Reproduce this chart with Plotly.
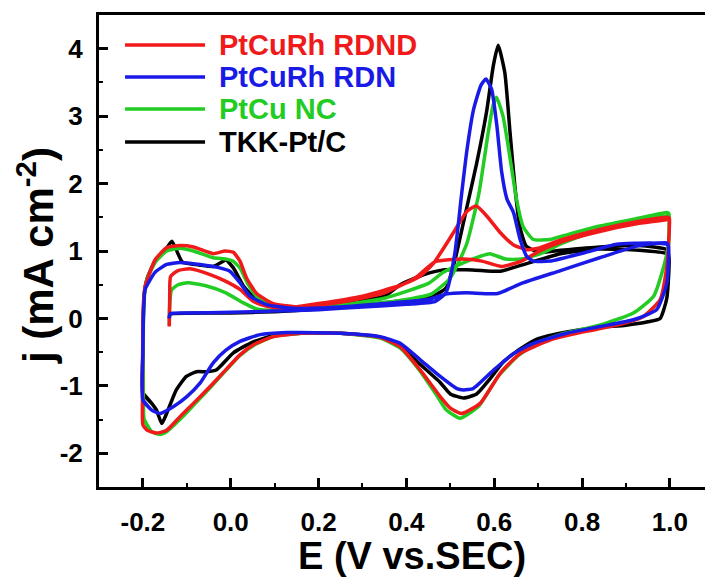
import plotly.graph_objects as go

# ---------------- data (E in V vs. SCE, j in mA cm-2) ----------------
# PtCuRh RDND (red)
rdnd_fwd1_E = [-0.14, -0.139, -0.137, -0.12, -0.093, -0.047, -0.011, 0.021, 0.052, 0.082, 0.12, 0.2, 0.3, 0.39, 0.43, 0.462, 0.507, 0.538, 0.559, 0.583, 0.614, 0.644, 0.674, 0.70, 0.75, 0.84, 0.93, 0.997]
rdnd_fwd1_j = [-0.12, 0.3, 0.62, 0.71, 0.735, 0.65, 0.55, 0.43, 0.25, 0.18, 0.15, 0.22, 0.33, 0.5, 0.62, 0.82, 1.27, 1.59, 1.667, 1.52, 1.27, 1.09, 1.02, 1.04, 1.16, 1.32, 1.44, 1.5]
rdnd_rev_E = [0.999, 0.997, 0.993, 0.978, 0.94, 0.879, 0.803, 0.727, 0.659, 0.614, 0.568, 0.526, 0.50, 0.477, 0.431, 0.386, 0.34, 0.25, 0.16, 0.097, 0.052, 0.021, -0.011, -0.047, -0.085, -0.116, -0.146, -0.169, -0.19, -0.2]
rdnd_rev_j = [1.48, 1.1, 0.77, 0.28, 0.03, -0.1, -0.2, -0.32, -0.52, -0.81, -1.26, -1.41, -1.33, -1.16, -0.76, -0.42, -0.28, -0.22, -0.22, -0.27, -0.39, -0.54, -0.76, -1.01, -1.26, -1.46, -1.66, -1.70, -1.66, -1.58]
rdnd_fwd2_E = [-0.201, -0.2, -0.198, -0.195, -0.172, -0.146, -0.116, -0.085, -0.04, -0.013, 0.006, 0.021, 0.036, 0.059, 0.097, 0.158, 0.25, 0.35, 0.42, 0.465, 0.528, 0.572, 0.617, 0.662, 0.706, 0.75, 0.84, 0.93, 0.997]
rdnd_fwd2_j = [-1.2, 0.0, 0.3, 0.48, 0.87, 1.05, 1.08, 1.06, 0.96, 1.0, 0.98, 0.85, 0.6, 0.37, 0.22, 0.17, 0.24, 0.38, 0.6, 0.84, 0.88, 0.85, 0.77, 0.85, 1.01, 1.13, 1.29, 1.41, 1.47]

# PtCuRh RDN (blue)
rdn_fwd1_E = [-0.14, -0.138, -0.1, 0.0, 0.1, 0.2, 0.3, 0.4, 0.465, 0.49, 0.51, 0.525, 0.538, 0.553, 0.57, 0.581, 0.594, 0.606, 0.617, 0.629, 0.644, 0.659, 0.674, 0.689, 0.727, 0.803, 0.879, 0.955, 0.993]
rdn_fwd1_j = [0.0, 0.07, 0.08, 0.09, 0.11, 0.13, 0.17, 0.21, 0.25, 0.38, 0.95, 1.8, 2.5, 3.1, 3.46, 3.55, 3.40, 2.86, 2.17, 1.77, 1.57, 1.17, 0.92, 0.85, 0.85, 0.97, 1.1, 1.12, 1.10]
rdn_rev_E = [0.997, 0.993, 0.97, 0.917, 0.841, 0.765, 0.689, 0.644, 0.598, 0.552, 0.53, 0.515, 0.477, 0.431, 0.386, 0.34, 0.25, 0.16, 0.127, 0.067, 0.021, -0.011, -0.04, -0.07, -0.1, -0.131, -0.161, -0.18, -0.2]
rdn_rev_j = [1.07, 0.52, 0.13, -0.02, -0.12, -0.22, -0.37, -0.52, -0.77, -1.04, -1.06, -1.04, -0.86, -0.61, -0.37, -0.27, -0.22, -0.21, -0.21, -0.24, -0.34, -0.47, -0.66, -0.96, -1.16, -1.31, -1.41, -1.36, -1.21]
rdn_fwd2_E = [-0.2, -0.199, -0.197, -0.195, -0.173, -0.146, -0.116, -0.07, -0.025, -0.002, 0.021, 0.044, 0.082, 0.14, 0.25, 0.35, 0.45, 0.49, 0.536, 0.608, 0.662, 0.751, 0.84, 0.93, 0.993]
rdn_fwd2_j = [-0.5, 0.0, 0.3, 0.43, 0.68, 0.80, 0.83, 0.80, 0.75, 0.70, 0.53, 0.33, 0.205, 0.15, 0.17, 0.22, 0.28, 0.36, 0.38, 0.37, 0.52, 0.71, 0.9, 1.08, 1.12]

# PtCu NC (green)
nc_fwd1_E = [-0.14, -0.139, -0.135, -0.12, -0.098, -0.055, -0.011, 0.029, 0.059, 0.1, 0.2, 0.3, 0.4, 0.456, 0.5, 0.537, 0.565, 0.585, 0.597, 0.605, 0.62, 0.636, 0.651, 0.666, 0.689, 0.727, 0.765, 0.841, 0.917, 0.995]
nc_fwd1_j = [-0.1, 0.2, 0.42, 0.5, 0.53, 0.48, 0.38, 0.23, 0.14, 0.12, 0.15, 0.2, 0.28, 0.36, 0.6, 1.1, 1.85, 2.7, 3.15, 3.28, 3.0, 2.38, 1.76, 1.36, 1.17, 1.17, 1.24, 1.37, 1.47, 1.57]
nc_rev_E = [0.998, 0.997, 0.986, 0.963, 0.917, 0.84, 0.76, 0.70, 0.655, 0.61, 0.565, 0.522, 0.49, 0.47, 0.43, 0.386, 0.34, 0.25, 0.16, 0.097, 0.052, 0.021, -0.011, -0.047, -0.085, -0.116, -0.146, -0.16, -0.18, -0.197]
nc_rev_j = [1.55, 1.1, 0.77, 0.33, 0.08, -0.1, -0.22, -0.36, -0.55, -0.85, -1.3, -1.48, -1.35, -1.15, -0.77, -0.44, -0.29, -0.22, -0.22, -0.27, -0.4, -0.55, -0.77, -1.03, -1.29, -1.5, -1.68, -1.72, -1.68, -1.5]
nc_fwd2_E = [-0.199, -0.199, -0.197, -0.19, -0.17, -0.146, -0.116, -0.085, -0.04, -0.01, 0.005, 0.021, 0.04, 0.06, 0.1, 0.16, 0.25, 0.35, 0.45, 0.483, 0.528, 0.572, 0.59, 0.626, 0.662, 0.706, 0.75, 0.84, 0.93, 0.997]
nc_fwd2_j = [-1.1, 0.0, 0.35, 0.6, 0.85, 1.0, 1.04, 1.0, 0.9, 0.88, 0.85, 0.75, 0.5, 0.32, 0.2, 0.16, 0.2, 0.3, 0.52, 0.68, 0.82, 0.93, 0.96, 0.88, 0.88, 0.96, 1.1, 1.32, 1.45, 1.53]

# TKK-Pt/C (black)
tkk_fwd1_E = [-0.14, -0.138, 0.0, 0.1, 0.2, 0.3, 0.4, 0.46, 0.49, 0.51, 0.536, 0.56, 0.583, 0.598, 0.609, 0.624, 0.636, 0.647, 0.658, 0.673, 0.704, 0.751, 0.84, 0.93, 0.993]
tkk_fwd1_j = [0.0, 0.06, 0.08, 0.1, 0.14, 0.2, 0.27, 0.33, 0.45, 0.85, 1.6, 2.3, 3.08, 3.75, 4.05, 3.65, 2.76, 1.96, 1.37, 1.07, 0.98, 1.01, 1.06, 1.08, 1.02]
tkk_rev_E = [0.998, 0.993, 0.978, 0.95, 0.9, 0.84, 0.765, 0.70, 0.66, 0.62, 0.59, 0.56, 0.53, 0.50, 0.477, 0.431, 0.386, 0.34, 0.25, 0.16, 0.1, 0.05, 0.006, -0.032, -0.055, -0.078, -0.101, -0.124, -0.146, -0.157, -0.169, -0.18, -0.2]
tkk_rev_j = [0.9, 0.3, 0.0, -0.05, -0.1, -0.13, -0.2, -0.3, -0.45, -0.65, -0.9, -1.12, -1.18, -1.12, -0.95, -0.68, -0.42, -0.28, -0.22, -0.22, -0.25, -0.35, -0.51, -0.76, -0.79, -0.79, -0.86, -1.06, -1.41, -1.56, -1.36, -1.26, -1.11]
tkk_fwd2_E = [-0.2, -0.199, -0.197, -0.19, -0.17, -0.15, -0.134, -0.11, -0.07, -0.04, -0.017, -0.011, 0.006, 0.029, 0.059, 0.1, 0.16, 0.25, 0.35, 0.386, 0.44, 0.484, 0.55, 0.614, 0.662, 0.751, 0.84, 0.93, 0.993]
tkk_fwd2_j = [-0.5, 0.0, 0.35, 0.6, 0.88, 1.0, 1.146, 0.835, 0.79, 0.77, 0.85, 0.87, 0.75, 0.48, 0.28, 0.18, 0.16, 0.22, 0.33, 0.5, 0.65, 0.72, 0.72, 0.7, 0.79, 0.96, 1.03, 1.01, 0.96]

labels = ["PtCuRh RDND", "PtCuRh RDN", "PtCu NC", "TKK-Pt/C"]
colors = ["#f01a1a", "#1a1ae6", "#22cc22", "#000000"]

x_ticks = [-0.2, 0.0, 0.2, 0.4, 0.6, 0.8, 1.0]
y_ticks = [-2, -1, 0, 1, 2, 3, 4]

curves = {
    "PtCuRh RDND": (rdnd_fwd1_E + rdnd_rev_E + rdnd_fwd2_E + rdnd_rev_E,
                    rdnd_fwd1_j + rdnd_rev_j + rdnd_fwd2_j + rdnd_rev_j),
    "PtCuRh RDN": (rdn_fwd1_E + rdn_rev_E + rdn_fwd2_E + rdn_rev_E,
                   rdn_fwd1_j + rdn_rev_j + rdn_fwd2_j + rdn_rev_j),
    "PtCu NC": (nc_fwd1_E + nc_rev_E + nc_fwd2_E + nc_rev_E,
                nc_fwd1_j + nc_rev_j + nc_fwd2_j + nc_rev_j),
    "TKK-Pt/C": (tkk_fwd1_E + tkk_rev_E + tkk_fwd2_E + tkk_rev_E,
                 tkk_fwd1_j + tkk_rev_j + tkk_fwd2_j + tkk_rev_j),
}

FONT = "Arial, Liberation Sans, sans-serif"
fig = go.Figure()

draw_order = ["TKK-Pt/C", "PtCu NC", "PtCuRh RDND", "PtCuRh RDN"]
for name in draw_order:
    c = colors[labels.index(name)]
    E, j = curves[name]
    fig.add_trace(go.Scatter(x=E, y=j, mode="lines", name=name,
                             line=dict(color=c, width=3.5, shape="spline", smoothing=0.5),
                             showlegend=False))

# legend (drawn manually: long line samples, coloured bold text)
leg_y = [0.9364, 0.8686, 0.8008, 0.7309]
for lab, c, yy in zip(labels, colors, leg_y):
    fig.add_shape(type="line", xref="paper", yref="paper", x0=0.043, x1=0.175, y0=yy, y1=yy,
                  line=dict(color=c, width=3.5))
    fig.add_annotation(xref="paper", yref="paper", x=0.1947, y=yy, text=lab, showarrow=False,
                       xanchor="left", yanchor="middle",
                       font=dict(family=FONT, size=29, color=c, weight="bold"))

# axis titles
fig.add_annotation(xref="paper", yref="paper", x=0.5165, y=-0.146, text="E (V vs.SEC)",
                   showarrow=False, xanchor="center", yanchor="middle",
                   font=dict(family=FONT, size=38, color="black", weight="bold"))
fig.add_annotation(xref="paper", yref="paper", x=-0.105, y=0.49, text="j (mA cm<sup>-2</sup>)",
                   showarrow=False, xanchor="center", yanchor="middle", textangle=-90,
                   font=dict(family=FONT, size=42, color="black", weight="bold"))

fig.update_layout(
    width=705, height=579,
    margin=dict(l=99, r=0, t=15, b=92),
    paper_bgcolor="white", plot_bgcolor="white",
    showlegend=False,
)
fig.update_xaxes(range=[-0.3, 1.08], tickvals=x_ticks, ticktext=[f"{v:.1f}" for v in x_ticks],
                 showgrid=False, zeroline=False, showline=True, linecolor="black", linewidth=3,
                 mirror=True, ticks="inside", ticklen=9, tickwidth=3, tickcolor="black",
                 minor=dict(ticks="inside", ticklen=4, tickwidth=2, dtick=0.1, tick0=0, tickcolor="black", showgrid=False),
                 tickfont=dict(family=FONT, size=26, color="black", weight="bold"),
                 ticklabelstandoff=10)
fig.update_yaxes(range=[-2.5, 4.5], tickvals=y_ticks, ticktext=[str(v) for v in y_ticks],
                 showgrid=False, zeroline=False, showline=True, linecolor="black", linewidth=3,
                 mirror=False, ticks="inside", ticklen=9, tickwidth=3, tickcolor="black",
                 minor=dict(ticks="inside", ticklen=4, tickwidth=2, dtick=0.5, tick0=0, tickcolor="black", showgrid=False),
                 tickfont=dict(family=FONT, size=26, color="black", weight="bold"),
                 ticklabelstandoff=8)

fig.write_html("out.html")
